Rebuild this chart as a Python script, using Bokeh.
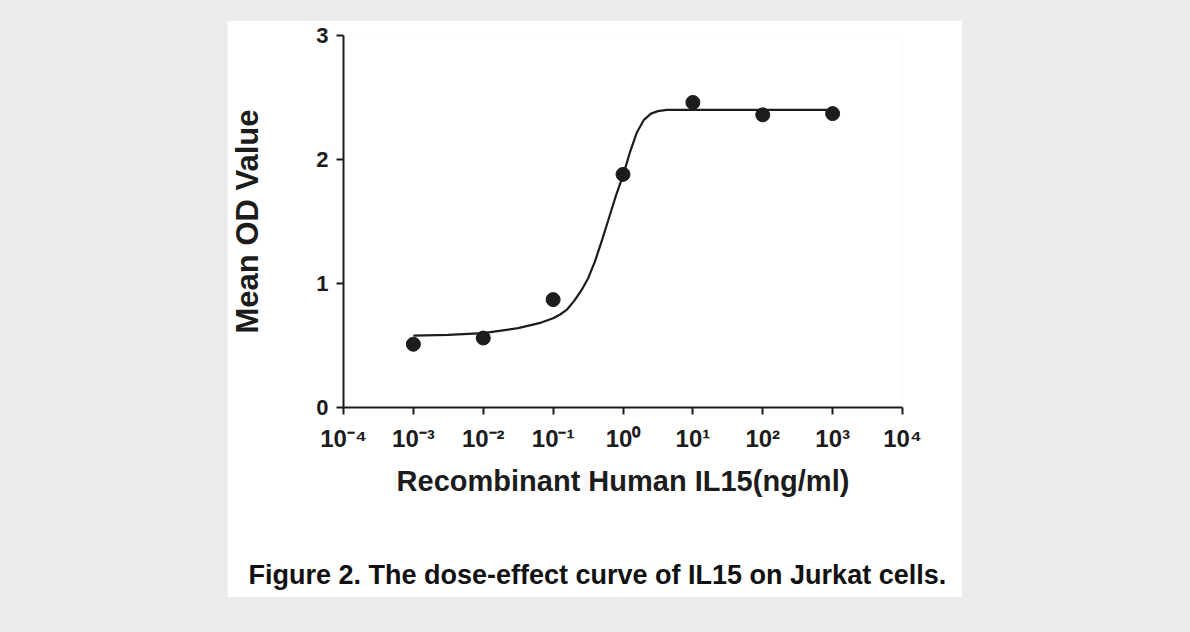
from bokeh.plotting import figure
from bokeh.models import FixedTicker, Spacer, Range1d, Title
from bokeh.layouts import column, row
from bokeh.embed import file_html
from bokeh.resources import INLINE

# ---- data ----
dose = [0.001, 0.01, 0.1, 1, 10, 100, 1000]
mean_od = [0.51, 0.56, 0.87, 1.88, 2.46, 2.36, 2.37]

curve_dose = [0.001, 0.00316, 0.01, 0.0316, 0.0631, 0.1, 0.126, 0.158, 0.2, 0.251,
              0.316, 0.398, 0.501, 0.631, 0.794, 1.0, 1.26, 1.585, 1.995, 2.512,
              3.162, 4.27, 10, 100, 1000]
curve_od = [0.58, 0.585, 0.60, 0.64, 0.68, 0.72, 0.75, 0.79, 0.86, 0.94,
            1.04, 1.18, 1.35, 1.53, 1.71, 1.87, 2.06, 2.22, 2.32, 2.37,
            2.39, 2.40, 2.40, 2.40, 2.40]

x_tick_values = [1e-4, 1e-3, 1e-2, 1e-1, 1, 10, 100, 1000, 1e4]
x_tick_labels = ["10⁻⁴", "10⁻³", "10⁻²", "10⁻¹", "10⁰", "10¹", "10²", "10³", "10⁴"]
y_tick_values = [0, 1, 2, 3]

x_title = "Recombinant Human IL15(ng/ml)"
y_title = "Mean OD Value"
caption = "Figure 2. The dose-effect curve of IL15 on Jurkat cells."

FONT = "Liberation Sans"
INK = "#1c1c1c"

p = figure(width=735, height=577, x_axis_type="log",
           x_range=Range1d(1e-4, 1e4), y_range=Range1d(0, 3),
           output_backend="svg", toolbar_location=None,
           min_border_left=116, min_border_right=60,
           min_border_top=15, min_border_bottom=190)
p.background_fill_color = "white"
p.border_fill_color = "white"
p.outline_line_color = None
p.xgrid.visible = False
p.ygrid.visible = False

p.line(curve_dose, curve_od, line_color=INK, line_width=2.2)
p.scatter(dose, mean_od, size=14, fill_color=INK, line_color=INK)

for ax in (p.xaxis[0], p.yaxis[0]):
    ax.axis_line_width = 2
    ax.axis_line_color = INK
    ax.major_tick_line_width = 2
    ax.major_tick_line_color = INK
    ax.major_tick_out = 7
    ax.major_tick_in = 0
    ax.minor_tick_line_color = None
    ax.major_label_text_font = FONT
    ax.major_label_text_font_style = "bold"
    ax.major_label_text_color = INK
    ax.axis_label_text_font = FONT
    ax.axis_label_text_font_style = "bold"
    ax.axis_label_text_color = INK

xa = p.xaxis[0]
xa.ticker = FixedTicker(ticks=x_tick_values)
xa.major_label_overrides = dict(zip(x_tick_values, x_tick_labels))
xa.major_label_text_font_size = "24px"
xa.major_label_standoff = 10
xa.axis_label = x_title
xa.axis_label_text_font_size = "29px"
xa.axis_label_standoff = 10

ya = p.yaxis[0]
ya.ticker = FixedTicker(ticks=y_tick_values)
ya.major_label_text_font_size = "22px"
ya.major_label_standoff = 8
ya.axis_label = y_title
ya.axis_label_text_font_size = "31px"
ya.axis_label_standoff = 48

# blank gap panel between the x axis and the caption
p.add_layout(Title(text=" ", standoff=48, text_font_size="2px",
                   text_color="white"), "below")
p.add_layout(Title(text=caption, align="left", offset=-95, standoff=12,
                   text_font=FONT, text_font_style="bold",
                   text_font_size="27px", text_color="#111111"), "below")

layout = column(Spacer(height=20), row(Spacer(width=227), p))

html = file_html(layout, INLINE)
html = html.replace("<head>", "<head><style>html,body{background:#ebebeb;}</style>", 1)
open("out.html", "w").write(html)
